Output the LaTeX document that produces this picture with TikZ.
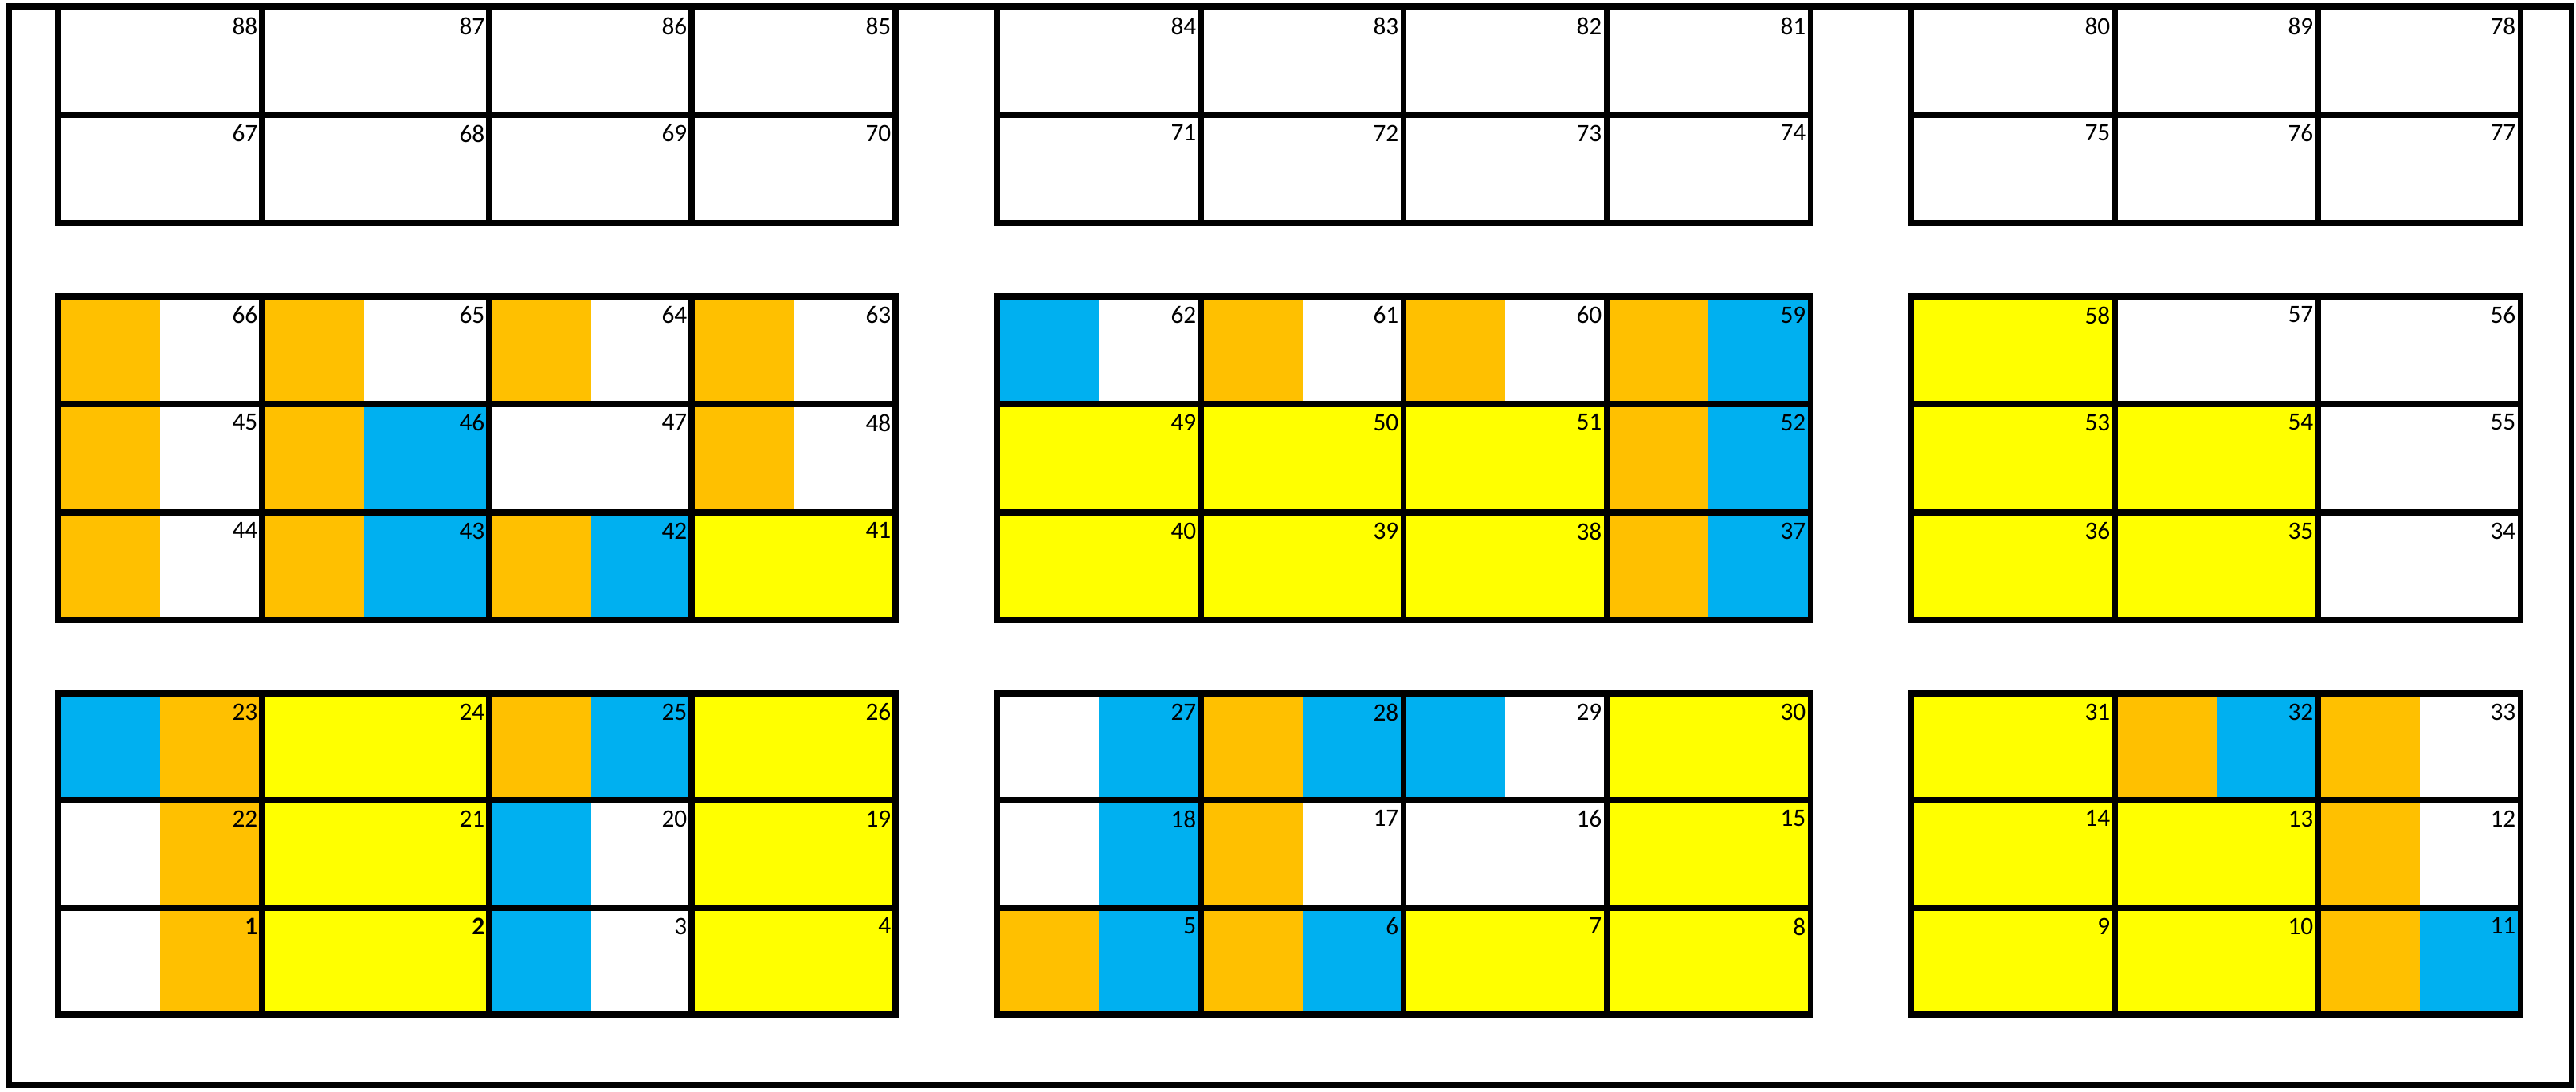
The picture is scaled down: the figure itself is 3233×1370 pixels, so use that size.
\documentclass[tikz,border=0pt]{standalone}
\usepackage{fontspec}
\setmainfont{Carlito}
\usepackage{tikz}
\usepackage{xcolor}
\definecolor{StallO}{HTML}{FFC000}
\definecolor{StallB}{HTML}{00B0F0}
\definecolor{StallY}{HTML}{FFFF00}
\definecolor{StallW}{HTML}{FFFFFF}
\tikzset{
  gridline/.style={draw=black, line width=2pt, line cap=rect},
  wall/.style={draw=black, line width=2pt},
  numlabel/.style={anchor=north east, inner sep=0pt, font=\fontsize{8.9}{11}\selectfont},
}
% one row of stalls: y top, y bottom, list of x left/x right/strip colour/rest colour/number
\newcommand{\stallrow}[3]{%
  \foreach \xa/\xb/\cs/\cr/\num in {#3} {
    \fill[\cs] (\xa,#1) rectangle (\xa+128,#2);
    \fill[\cr] (\xa+128,#1) rectangle (\xb,#2);
    \node[numlabel] (c\num) at (\xb-5,#1+12) {\ifnum\num<3\bfseries\fi\num};
  }}

\begin{document}
\begin{tikzpicture}[x=0.01cm, y=-0.01cm]
    \useasboundingbox (0,0) rectangle (3233,1370);
    \fill[white] (0,0) rectangle (3233,1370);
    % top band
    \stallrow{9}{144}{73/329/StallW/StallW/88, 329/614/StallW/StallW/87, 614/868/StallW/StallW/86, 868/1124/StallW/StallW/85,
      1251/1507/StallW/StallW/84, 1507/1761/StallW/StallW/83, 1761/2016/StallW/StallW/82, 2016/2272/StallW/StallW/81,
      2398/2654/StallW/StallW/80, 2654/2909/StallW/StallW/89, 2909/3163/StallW/StallW/78}
    \stallrow{144}{280}{73/329/StallW/StallW/67, 329/614/StallW/StallW/68, 614/868/StallW/StallW/69, 868/1124/StallW/StallW/70,
      1251/1507/StallW/StallW/71, 1507/1761/StallW/StallW/72, 1761/2016/StallW/StallW/73, 2016/2272/StallW/StallW/74,
      2398/2654/StallW/StallW/75, 2654/2909/StallW/StallW/76, 2909/3163/StallW/StallW/77}
    % middle band
    \stallrow{372}{507}{73/329/StallO/StallW/66, 329/614/StallO/StallW/65, 614/868/StallO/StallW/64, 868/1124/StallO/StallW/63,
      1251/1507/StallB/StallW/62, 1507/1761/StallO/StallW/61, 1761/2016/StallO/StallW/60, 2016/2272/StallO/StallB/59,
      2398/2654/StallY/StallY/58, 2654/2909/StallW/StallW/57, 2909/3163/StallW/StallW/56}
    \stallrow{507}{643}{73/329/StallO/StallW/45, 329/614/StallO/StallB/46, 614/868/StallW/StallW/47, 868/1124/StallO/StallW/48,
      1251/1507/StallY/StallY/49, 1507/1761/StallY/StallY/50, 1761/2016/StallY/StallY/51, 2016/2272/StallO/StallB/52,
      2398/2654/StallY/StallY/53, 2654/2909/StallY/StallY/54, 2909/3163/StallW/StallW/55}
    \stallrow{643}{778}{73/329/StallO/StallW/44, 329/614/StallO/StallB/43, 614/868/StallO/StallB/42, 868/1124/StallY/StallY/41,
      1251/1507/StallY/StallY/40, 1507/1761/StallY/StallY/39, 1761/2016/StallY/StallY/38, 2016/2272/StallO/StallB/37,
      2398/2654/StallY/StallY/36, 2654/2909/StallY/StallY/35, 2909/3163/StallW/StallW/34}
    % bottom band
    \stallrow{870}{1004}{73/329/StallB/StallO/23, 329/614/StallY/StallY/24, 614/868/StallO/StallB/25, 868/1124/StallY/StallY/26,
      1251/1507/StallW/StallB/27, 1507/1761/StallO/StallB/28, 1761/2016/StallB/StallW/29, 2016/2272/StallY/StallY/30,
      2398/2654/StallY/StallY/31, 2654/2909/StallO/StallB/32, 2909/3163/StallO/StallW/33}
    \stallrow{1004}{1139}{73/329/StallW/StallO/22, 329/614/StallY/StallY/21, 614/868/StallB/StallW/20, 868/1124/StallY/StallY/19,
      1251/1507/StallW/StallB/18, 1507/1761/StallO/StallW/17, 1761/2016/StallW/StallW/16, 2016/2272/StallY/StallY/15,
      2398/2654/StallY/StallY/14, 2654/2909/StallY/StallY/13, 2909/3163/StallO/StallW/12}
    \stallrow{1139}{1273}{73/329/StallW/StallO/1, 329/614/StallY/StallY/2, 614/868/StallB/StallW/3, 868/1124/StallY/StallY/4,
      1251/1507/StallO/StallB/5, 1507/1761/StallO/StallB/6, 1761/2016/StallY/StallY/7, 2016/2272/StallY/StallY/8,
      2398/2654/StallY/StallY/9, 2654/2909/StallY/StallY/10, 2909/3163/StallO/StallB/11}
    % grid lines
    \foreach \ya/\yb in {8/280, 372/778, 870/1273} {
      \foreach \x in {73,329,614,868,1124,1251,1507,1761,2016,2272,2398,2654,2909,3163}
        \draw[gridline] (\x,\ya) -- (\x,\yb);
    }
    \foreach \y in {8,144,280,372,507,643,778,870,1004,1139,1273} {
      \draw[gridline] (73,\y) -- (1124,\y);
      \draw[gridline] (1251,\y) -- (2272,\y);
      \draw[gridline] (2398,\y) -- (3163,\y);
    }
    % outer wall
    \draw[wall] (11,8) rectangle (3227,1361);
  \end{tikzpicture}
\end{document}
